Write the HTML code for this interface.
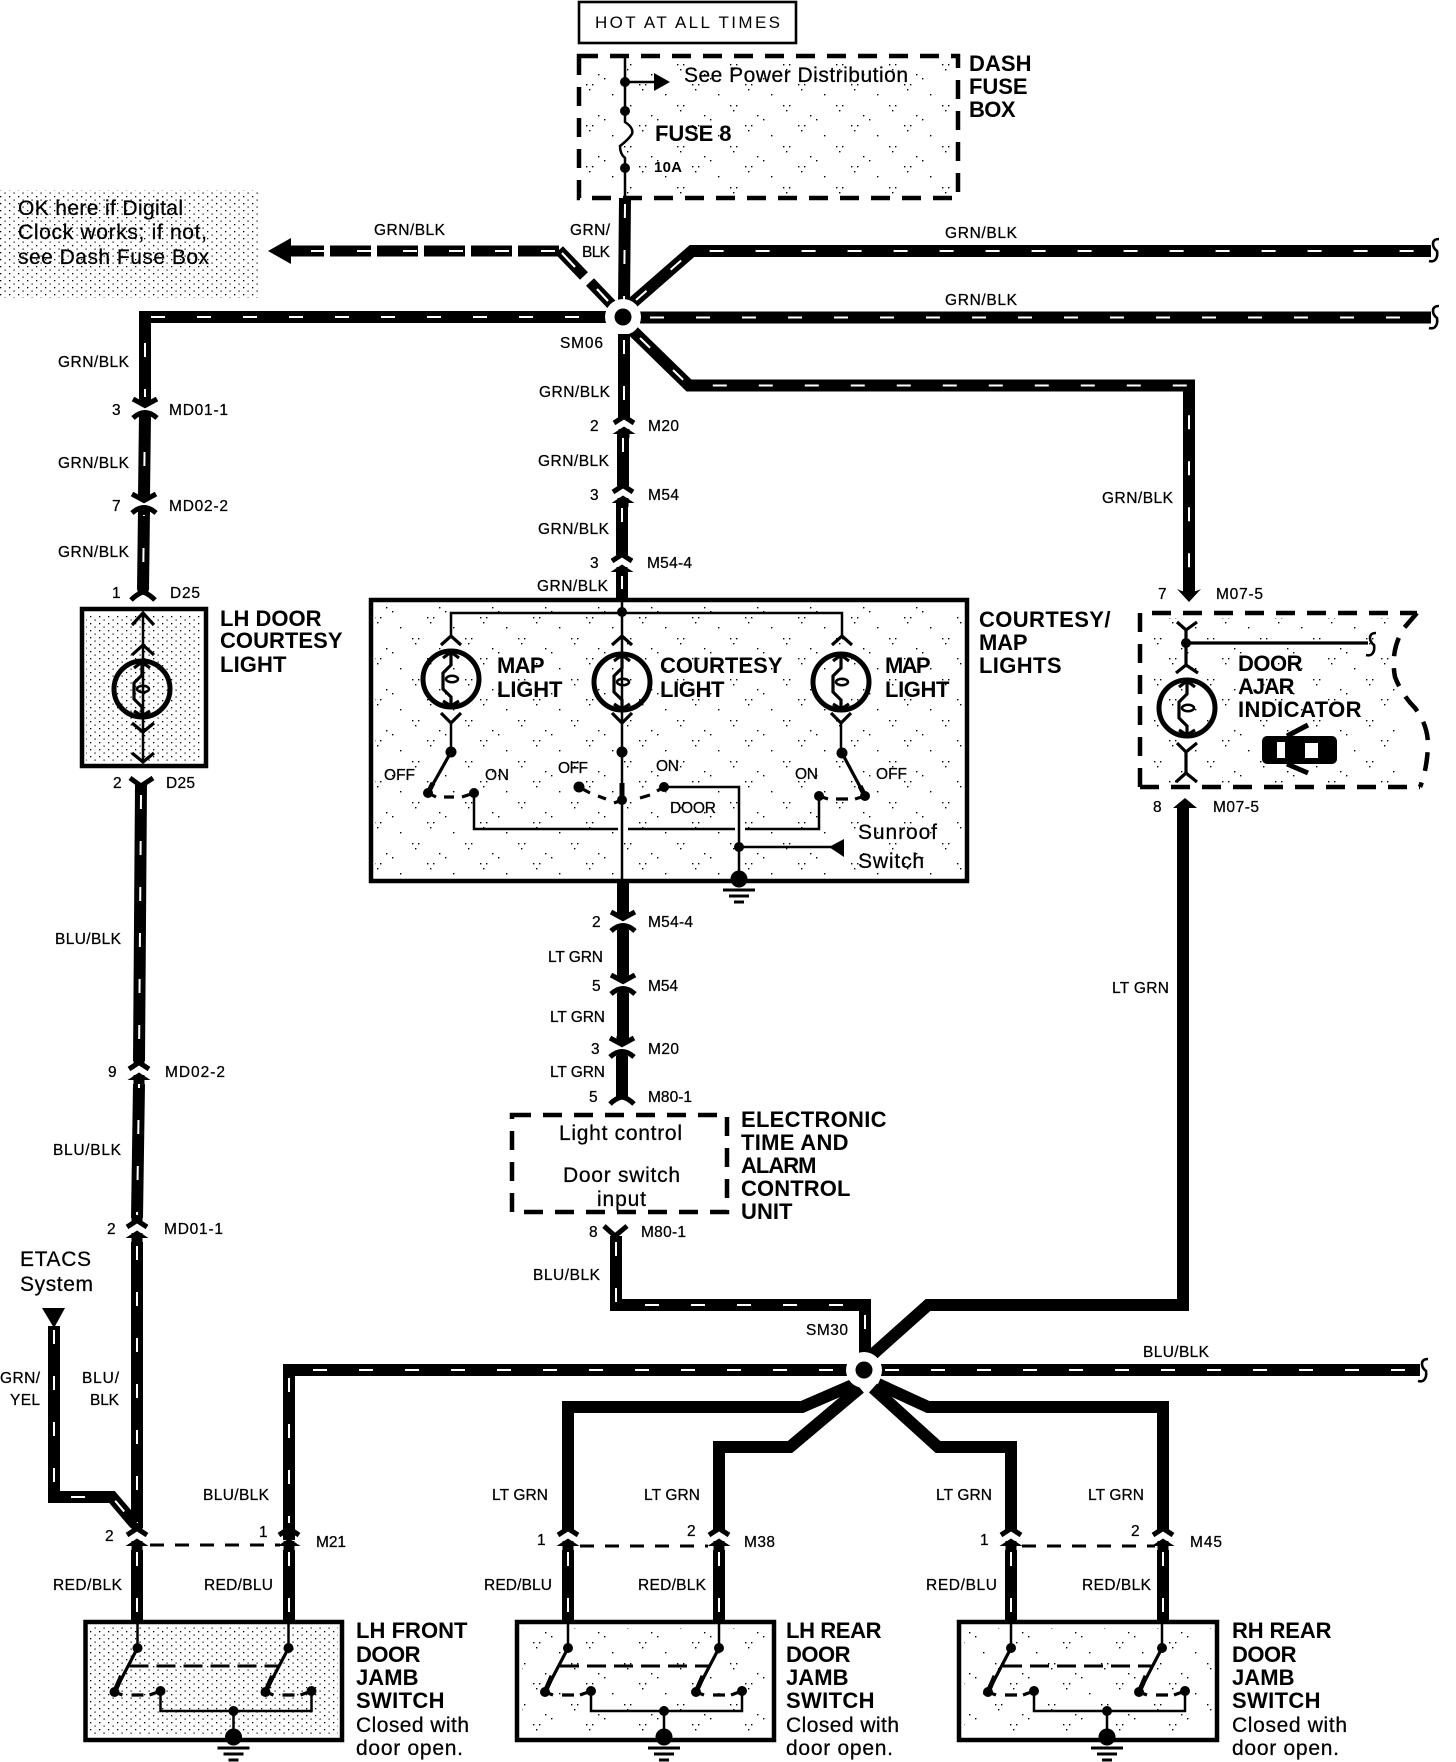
<!DOCTYPE html>
<html><head><meta charset="utf-8">
<style>
html,body{margin:0;padding:0;background:#fff}
svg{display:block}
text{font-family:"Liberation Sans",sans-serif;fill:#000}
.s{font-size:15.5px;stroke:#000;stroke-width:.25}
.m{font-size:21px;stroke:#000;stroke-width:.25}
.b{font-size:22px;font-weight:bold;letter-spacing:.5px}
.w{fill:none;stroke:#000;stroke-width:12;stroke-linejoin:miter}
.t{fill:none;stroke:#fff;stroke-width:2;stroke-dasharray:14 32}
.l{fill:none;stroke:#000;stroke-width:2.5}
.h{fill:none;stroke:#000;stroke-width:3.2}
.a{fill:none;stroke:#000;stroke-width:5}
.box{fill:none;stroke:#000;stroke-width:4.5}
.d{fill:none;stroke:#000;stroke-width:4.5;stroke-dasharray:19 12}
</style></head><body>
<svg width="1456" height="1762" viewBox="0 0 1456 1762" xmlns="http://www.w3.org/2000/svg">
<defs>
<pattern id="dense" width="4" height="4" patternUnits="userSpaceOnUse"><rect width="1.3" height="1.3" fill="#000"/></pattern>
<pattern id="mid" width="9" height="7" patternUnits="userSpaceOnUse"><rect width="1.3" height="1.3" fill="#000"/><rect x="4.5" y="3.5" width="1.2" height="1.2" fill="#000"/></pattern>
<pattern id="sparse" width="53" height="41" patternUnits="userSpaceOnUse"><g fill="#000"><rect x="3" y="2" width="1.4" height="1.4"/><rect x="9" y="2" width="1.4" height="1.4"/><rect x="6" y="7" width="1.4" height="1.4"/><rect x="29" y="12" width="1.4" height="1.4"/><rect x="41" y="23" width="1.4" height="1.4"/><rect x="47" y="23" width="1.4" height="1.4"/><rect x="44" y="28" width="1.4" height="1.4"/><rect x="15" y="33" width="1.4" height="1.4"/><rect x="21" y="37" width="1.4" height="1.4"/></g></pattern>
<g id="V"><path d="M0,-12V-4" stroke="#000" stroke-width="11"/><path d="M-12,-10L0,-3.5L12,-10" class="a"/><path d="M-12,9Q-6,3.5 0,3.5Q6,3.5 12,9" class="a"/><path d="M0,4V11" stroke="#000" stroke-width="11"/></g>
<g id="A"><path d="M0,-14V-8" stroke="#000" stroke-width="11"/><path d="M-10,-2L0,-8.5L10,-2" class="a"/><path d="M-11.5,9L0,1.5L11.5,9Z" fill="#000"/><path d="M0,4V13" stroke="#000" stroke-width="11"/></g>
<g id="B"><circle r="28" fill="none" stroke="#000" stroke-width="5"/><path d="M0,-28V-14L-8,-6V10L0,18V28M-8,-21L0,-27L8,-21M-8,22L0,27L8,22" class="h"/><ellipse cx="1" cy="0" rx="6" ry="3.2" fill="none" stroke="#000" stroke-width="2.5"/></g>
<path id="S" d="M8,-11Q2,-11 2,-6Q2,-2 6,1Q7,7 4,10Q2,12 -2,11" fill="none" stroke="#000" stroke-width="2.6"/>
<g id="G"><circle r="8.5" fill="#000"/><path d="M-16,11H16M-10,17H10M-5,23H5" stroke="#000" stroke-width="3"/></g>
<g id="SW">
<path d="M568,1622V1648M719,1622V1648" class="l"/>
<path d="M568,1648L545,1692M719,1648L696,1692" class="h"/>
<path d="M552,1676L545,1692M703,1676L696,1692" class="a"/>
<path d="M545,1692L553,1695M562,1695H574M580,1695L591,1691M696,1692L704,1695M713,1695H725M731,1695L742,1691" class="h"/>
<path d="M560,1666H710" stroke="#000" stroke-width="3" stroke-dasharray="19 8" fill="none"/>
<path d="M591,1691V1711H742V1691M664,1711V1736" class="l"/>
<g fill="#000"><circle cx="568" cy="1648" r="5"/><circle cx="719" cy="1648" r="5"/><circle cx="545" cy="1692" r="5"/><circle cx="696" cy="1692" r="5"/><circle cx="591" cy="1691" r="5"/><circle cx="742" cy="1691" r="5"/><circle cx="664" cy="1711" r="5"/></g>
<use href="#G" x="664" y="1737"/>
</g>
</defs>
<rect width="1456" height="1762" fill="#fff"/>

<!-- stipple -->
<rect x="0" y="190" width="258" height="108" fill="url(#mid)"/>
<rect x="86" y="614" width="116" height="148" fill="url(#mid)"/>
<rect x="90" y="1626" width="248" height="110" fill="url(#mid)"/>
<rect x="375" y="604" width="588" height="274" fill="url(#sparse)"/>
<rect x="584" y="60" width="370" height="134" fill="url(#sparse)"/>
<rect x="1145" y="618" width="250" height="165" fill="url(#sparse)"/>
<rect x="522" y="1628" width="248" height="106" fill="url(#sparse)"/>
<rect x="964" y="1628" width="248" height="106" fill="url(#sparse)"/>

<!-- hot box + fuse box -->
<rect x="579" y="2" width="217" height="41" fill="none" stroke="#000" stroke-width="2.6"/>
<text x="595" y="28" style="font-size:17px" textLength="185">HOT AT ALL TIMES</text>
<rect x="579" y="56" width="379" height="142" class="d"/>
<path d="M625,56V111M625,165V198M625,82H656" class="l"/>
<path d="M625,111V122Q634,128 632,134Q628,140 620,146Q620,154 625,158V168" class="l"/>
<path d="M654,73L670,82L654,91Z" fill="#000"/>
<circle cx="625" cy="82" r="5"/><circle cx="625" cy="111" r="5"/><circle cx="625" cy="168" r="5"/>
<text x="684" y="82" class="m" textLength="224">See Power Distribution</text>
<text x="655" y="141" class="b" textLength="77">FUSE 8</text>
<text x="654" y="172" style="font-size:15px;font-weight:bold" textLength="28">10A</text>
<text x="969" y="71" class="b" textLength="63">DASH</text>
<text x="969" y="94" class="b" textLength="59">FUSE</text>
<text x="969" y="117" class="b" textLength="47">BOX</text>

<!-- SM06 wires -->
<path d="M625,198L624,305" class="w"/><path d="M625,204L624,305" class="t"/>
<path d="M610,317H145V402" class="w"/><path d="M605,317H145V402" class="t" stroke-dashoffset="20"/>
<path d="M145,414L144,496" class="w"/><path d="M145,414L144,496" class="t" stroke-dashoffset="8"/>
<path d="M144,510L143,590" class="w"/><path d="M144,510L143,590" class="t" stroke-dashoffset="8"/>
<path d="M630,305L692,251H1431" class="w"/><path d="M636,300L692,251H1420" class="t"/>
<path d="M640,317.5H1431" class="w"/><path d="M650,317.5H1420" class="t"/>
<path d="M632,330L689,385.5H1189V592" class="w"/><path d="M640,338L689,385.5H1189V582" class="t"/>
<path d="M1177,589Q1189,595 1201,589L1189,602Z" fill="#000"/>
<path d="M559,251H291" fill="none" stroke="#000" stroke-width="11" stroke-dasharray="41 6"/>
<path d="M268,251L291,238V264Z" fill="#000"/>
<path d="M555,251H291" class="t" stroke-dasharray="15 32"/>
<path d="M559,250L584,276M590,282L613,306" fill="none" stroke="#000" stroke-width="11"/>
<path d="M562,253L575,267M597,289L608,301" fill="none" stroke="#fff" stroke-width="2.2"/>
<use href="#S" x="1431" y="250"/><use href="#S" x="1431" y="317"/>
<circle cx="623" cy="317" r="18" fill="#fff"/><circle cx="623" cy="317" r="8.5" fill="#000"/>

<!-- center top wires -->
<path d="M624,334V418" class="w"/><path d="M624,340V418" class="t"/>
<path d="M623,434V486" class="w"/><path d="M623,438V486" class="t"/>
<path d="M622,503V555" class="w"/><path d="M622,508V555" class="t"/>
<path d="M622,572V600" class="w"/><path d="M622,575V598" class="t"/>
<use href="#A" x="624" y="425"/><use href="#A" x="623" y="494"/><use href="#A" x="622" y="563"/>

<!-- left column -->
<use href="#V" x="145" y="409"/><use href="#V" x="144" y="504"/>
<path d="M143,586V592" stroke="#000" stroke-width="11"/>
<path d="M131,600Q137,594 143,592Q149,594 155,600" class="a"/>
<rect x="82" y="609" width="124" height="157" class="box"/>
<path d="M143,613V763" class="l"/>
<path d="M132,625L143,613L154,625M132,655L143,645L154,655M132,723L143,732L154,723M132,753L143,762L154,753" class="h"/>
<use href="#B" x="142" y="689"/>
<path d="M130,778L141,786L153,778" class="a"/>
<path d="M141,785L139,1061" class="w"/><path d="M141,795L139,1061" class="t"/>
<use href="#A" x="139" y="1071"/>
<path d="M139,1084L137,1218" class="w"/><path d="M139,1084L137,1218" class="t" stroke-dashoffset="10"/>
<use href="#A" x="137" y="1229"/>
<path d="M137,1242V1528" class="w"/><path d="M137,1246V1528" class="t"/>
<use href="#A" x="137" y="1537"/>
<path d="M137,1550V1622" class="w"/><path d="M137,1552V1618" class="t"/>

<!-- ETACS -->
<path d="M42,1308H65L54,1328Z" fill="#000"/>
<path d="M54,1326V1497H112L135,1524" class="w"/><path d="M54,1330V1497H112L133,1522" class="t"/>

<!-- SM30 wires -->
<path d="M289,1540V1370H852" class="w"/><path d="M289,1530V1370H845" class="t"/>
<use href="#A" x="289" y="1537"/>
<path d="M289,1550V1622" class="w"/><path d="M289,1552V1618" class="t"/>
<path d="M880,1370H1420" class="w"/><path d="M885,1370H1410" class="t"/>
<use href="#S" x="1420" y="1370"/>
<path d="M616,1236V1305H865V1355" class="w"/><path d="M616,1242V1305H865V1350" class="t"/>
<path d="M604,1226L615,1236L627,1226" class="a"/>
<path d="M872,1355L928,1305H1183V808" class="w"/>
<path d="M1173,808L1185,798L1197,808Z" fill="#000"/>
<path d="M855,1384L802,1407H568V1530" class="w"/>
<path d="M860,1388L790,1447H719V1530" class="w"/>
<path d="M873,1388L938,1447H1011V1530" class="w"/>
<path d="M878,1384L928,1407H1163V1530" class="w"/>
<circle cx="864" cy="1370" r="18" fill="#fff"/><circle cx="864" cy="1370" r="8.5" fill="#000"/>

<!-- lower connectors -->
<use href="#A" x="568" y="1537"/><use href="#A" x="719" y="1537"/><use href="#A" x="1011" y="1537"/><use href="#A" x="1163" y="1537"/>
<path d="M568,1550V1622M719,1550V1622M1011,1550V1622M1163,1550V1622" class="w"/>
<path d="M568,1552V1618M719,1552V1618M1011,1552V1618M1163,1552V1618" class="t"/>
<path d="M150,1545H280M580,1546H708M1022,1546H1155" fill="none" stroke="#000" stroke-width="3" stroke-dasharray="14 11"/>

<!-- lower boxes -->
<rect x="85.5" y="1622" width="256.5" height="118" class="box"/>
<rect x="517" y="1622" width="257" height="118" class="box"/>
<rect x="959" y="1622" width="258" height="118" class="box"/>
<use href="#SW" x="-430.5"/><use href="#SW"/><use href="#SW" x="443"/>

<!-- courtesy box -->
<rect x="371" y="600" width="596" height="281" class="box"/>
<path d="M622,600V883M451,637V613H842V637" class="l"/>
<path d="M441,645L451,636L461,645M612,645L622,636L632,645M832,645L842,636L852,645M441,713L451,723L461,713M612,713L622,723L632,713M831,713L841,723L851,713" class="h"/>
<use href="#B" x="451" y="679"/><use href="#B" x="622" y="682"/><use href="#B" x="841" y="682"/>
<path d="M451,723V752M841,723V753" class="l"/>
<path d="M451,752L428,793M842,753L865,796" class="h"/>
<path d="M433,783L428,793M860,786L865,796" class="a"/>
<path d="M428,793L436,797M444,797H454M462,797L474,793M819,796L828,799M836,799H848M855,799L865,796" class="h"/>
<path d="M579,787L590,793M598,796L606,799M622,800L614,803M640,798L650,795M657,791L664,787" class="h" stroke-width="3.5"/>
<path d="M622,783V800" class="a"/>
<path d="M474,793V829H618M628,829H735M745,829H819V796M664,787H739V878M739,847H832" class="l"/>
<path d="M829,847L844,839V857Z" fill="#000"/>
<g fill="#000"><circle cx="451" cy="752" r="5.5"/><circle cx="622" cy="752" r="5.5"/><circle cx="842" cy="753" r="5.5"/><circle cx="428" cy="793" r="5"/><circle cx="474" cy="793" r="5"/><circle cx="579" cy="787" r="5.5"/><circle cx="664" cy="787" r="5"/><circle cx="622" cy="800" r="5"/><circle cx="819" cy="796" r="5"/><circle cx="865" cy="796" r="5"/><circle cx="739" cy="847" r="5"/><circle cx="622" cy="612" r="5"/></g>
<use href="#G" x="739" y="879"/>

<!-- center lower wires -->
<path d="M623,883V915M623,930V978M623,993V1041M622,1056V1098" class="w"/>
<use href="#V" x="623" y="922"/><use href="#V" x="623" y="985"/><use href="#V" x="622" y="1048"/>
<path d="M610,1104Q616,1098 622,1097Q628,1098 634,1104" class="a"/>

<!-- ETU box -->
<rect x="512" y="1115" width="215" height="97" class="d"/>
<text x="559" y="1140" class="m" textLength="123">Light control</text>
<text x="563" y="1182" class="m" textLength="117">Door switch</text>
<text x="597" y="1206" class="m" textLength="49">input</text>
<text x="741" y="1127" class="b" textLength="146">ELECTRONIC</text>
<text x="741" y="1150" class="b" textLength="108">TIME AND</text>
<text x="741" y="1173" class="b" textLength="76">ALARM</text>
<text x="741" y="1196" class="b" textLength="110">CONTROL</text>
<text x="741" y="1219" class="b" textLength="52">UNIT</text>

<!-- door ajar -->
<path d="M1140,787V613H1417" class="d"/>
<path d="M1140,787H1420" class="d"/>
<path d="M1417,613L1404,628Q1390,650 1395,677Q1402,695 1415,708Q1428,725 1428,745Q1427,770 1420,787" class="d"/>
<path d="M1177,622L1186,630L1197,622M1176,673L1186,665L1198,673M1177,743L1186,752L1197,743M1176,782L1186,773L1197,782" class="h"/>
<path d="M1186,630V665M1186,752V773" class="h"/>
<path d="M1186,643H1368" class="h"/>
<circle cx="1186" cy="643" r="5"/>
<use href="#S" x="1368" y="644"/>
<use href="#B" x="1187" y="708"/>
<rect x="1262" y="736" width="75" height="28" rx="5" fill="#000"/>
<rect x="1277" y="742" width="8" height="16" fill="#fff"/><rect x="1305" y="743" width="13" height="15" fill="#fff"/>
<path d="M1287,736L1308,725M1287,764L1308,773" class="a"/>
<text x="1238" y="671" class="b" textLength="65">DOOR</text>
<text x="1238" y="694" class="b" textLength="57">AJAR</text>
<text x="1238" y="717" class="b" textLength="124">INDICATOR</text>

<!-- large labels -->
<text x="220" y="626" class="b" textLength="102">LH DOOR</text>
<text x="220" y="648" class="b" textLength="123">COURTESY</text>
<text x="220" y="672" class="b" textLength="67">LIGHT</text>
<text x="979" y="627" class="b" textLength="132">COURTESY/</text>
<text x="979" y="650" class="b" textLength="49">MAP</text>
<text x="979" y="673" class="b" textLength="83">LIGHTS</text>
<text x="497" y="673" class="b" textLength="48">MAP</text>
<text x="497" y="697" class="b" textLength="66">LIGHT</text>
<text x="660" y="673" class="b" textLength="123">COURTESY</text>
<text x="660" y="697" class="b" textLength="65">LIGHT</text>
<text x="885" y="673" class="b" textLength="46">MAP</text>
<text x="885" y="697" class="b" textLength="65">LIGHT</text>
<text x="858" y="839" class="m" textLength="79">Sunroof</text>
<text x="858" y="868" class="m" textLength="66">Switch</text>
<text x="384" y="780" class="s" textLength="31">OFF</text>
<text x="485" y="780" class="s" textLength="24">ON</text>
<text x="558" y="773" class="s" textLength="30">OFF</text>
<text x="656" y="771" class="s" textLength="23">ON</text>
<text x="795" y="779" class="s" textLength="23">ON</text>
<text x="876" y="779" class="s" textLength="31">OFF</text>
<text x="670" y="813" class="s" textLength="46">DOOR</text>

<text x="18" y="215" class="m" textLength="165">OK here if Digital</text>
<text x="18" y="239" class="m" textLength="189">Clock works; if not,</text>
<text x="18" y="264" class="m" textLength="191">see Dash Fuse Box</text>
<text x="20" y="1266" class="m" textLength="71">ETACS</text>
<text x="20" y="1291" class="m" textLength="73">System</text>

<!-- lower labels -->
<g>
<text x="356" y="1638" class="b" textLength="112">LH FRONT</text><text x="356" y="1662" class="b" textLength="65">DOOR</text><text x="356" y="1685" class="b" textLength="63">JAMB</text><text x="356" y="1708" class="b" textLength="89">SWITCH</text><text x="356" y="1732" class="m" textLength="113" style="font-size:21px">Closed with</text><text x="356" y="1755" class="m" textLength="107" style="font-size:21px">door open.</text>
<text x="786" y="1638" class="b" textLength="96">LH REAR</text><text x="786" y="1662" class="b" textLength="65">DOOR</text><text x="786" y="1685" class="b" textLength="63">JAMB</text><text x="786" y="1708" class="b" textLength="89">SWITCH</text><text x="786" y="1732" class="m" textLength="113" style="font-size:21px">Closed with</text><text x="786" y="1755" class="m" textLength="107" style="font-size:21px">door open.</text>
<text x="1232" y="1638" class="b" textLength="100">RH REAR</text><text x="1232" y="1662" class="b" textLength="65">DOOR</text><text x="1232" y="1685" class="b" textLength="63">JAMB</text><text x="1232" y="1708" class="b" textLength="89">SWITCH</text><text x="1232" y="1732" class="m" textLength="115" style="font-size:21px">Closed with</text><text x="1232" y="1755" class="m" textLength="107" style="font-size:21px">door open.</text>
</g>

<!-- small labels -->
<g class="s">
<text x="374" y="235" textLength="71">GRN/BLK</text>
<text x="570" y="235" textLength="40">GRN/</text><text x="582" y="257" textLength="28">BLK</text>
<text x="945" y="238" textLength="72">GRN/BLK</text>
<text x="945" y="305" textLength="72">GRN/BLK</text>
<text x="560" y="348" textLength="43">SM06</text>
<text x="58" y="367" textLength="71">GRN/BLK</text>
<text x="112" y="415">3</text><text x="169" y="415" textLength="59">MD01-1</text>
<text x="58" y="468" textLength="71">GRN/BLK</text>
<text x="112" y="511">7</text><text x="169" y="511" textLength="59">MD02-2</text>
<text x="58" y="557" textLength="71">GRN/BLK</text>
<text x="112" y="598">1</text><text x="170" y="598" textLength="30">D25</text>
<text x="113" y="788">2</text><text x="166" y="788" textLength="29">D25</text>
<text x="539" y="397" textLength="71">GRN/BLK</text>
<text x="590" y="431">2</text><text x="648" y="431" textLength="31">M20</text>
<text x="538" y="466" textLength="71">GRN/BLK</text>
<text x="590" y="500">3</text><text x="648" y="500" textLength="31">M54</text>
<text x="538" y="534" textLength="71">GRN/BLK</text>
<text x="590" y="568">3</text><text x="647" y="568" textLength="45">M54-4</text>
<text x="537" y="591" textLength="71">GRN/BLK</text>
<text x="1102" y="503" textLength="71">GRN/BLK</text>
<text x="1158" y="599">7</text><text x="1216" y="599" textLength="47">M07-5</text>
<text x="1153" y="812">8</text><text x="1213" y="812" textLength="46">M07-5</text>
<text x="1112" y="993" textLength="57">LT GRN</text>
<text x="55" y="944" textLength="66">BLU/BLK</text>
<text x="108" y="1077">9</text><text x="165" y="1077" textLength="60">MD02-2</text>
<text x="53" y="1155" textLength="68">BLU/BLK</text>
<text x="107" y="1234">2</text><text x="164" y="1234" textLength="59">MD01-1</text>
<text x="0" y="1383" textLength="40">GRN/</text><text x="10" y="1405" textLength="30">YEL</text>
<text x="82" y="1383" textLength="37">BLU/</text><text x="90" y="1405" textLength="29">BLK</text>
<text x="203" y="1500" textLength="66">BLU/BLK</text>
<text x="592" y="927">2</text><text x="648" y="927" textLength="45">M54-4</text>
<text x="548" y="962" textLength="55">LT GRN</text>
<text x="592" y="991">5</text><text x="648" y="991" textLength="30">M54</text>
<text x="550" y="1022" textLength="55">LT GRN</text>
<text x="591" y="1054">3</text><text x="648" y="1054" textLength="31">M20</text>
<text x="550" y="1077" textLength="55">LT GRN</text>
<text x="589" y="1102">5</text><text x="648" y="1102" textLength="44">M80-1</text>
<text x="589" y="1237">8</text><text x="641" y="1237" textLength="45">M80-1</text>
<text x="533" y="1280" textLength="67">BLU/BLK</text>
<text x="806" y="1335" textLength="42">SM30</text>
<text x="1143" y="1357" textLength="66">BLU/BLK</text>
<text x="492" y="1500" textLength="56">LT GRN</text>
<text x="644" y="1500" textLength="56">LT GRN</text>
<text x="936" y="1500" textLength="56">LT GRN</text>
<text x="1088" y="1500" textLength="56">LT GRN</text>
<text x="105" y="1541">2</text><text x="259" y="1537">1</text><text x="316" y="1547" textLength="30">M21</text>
<text x="537" y="1545">1</text><text x="687" y="1536">2</text><text x="744" y="1547" textLength="31">M38</text>
<text x="980" y="1545">1</text><text x="1131" y="1536">2</text><text x="1190" y="1547" textLength="32">M45</text>
<text x="53" y="1590" textLength="69">RED/BLK</text>
<text x="204" y="1590" textLength="69">RED/BLU</text>
<text x="484" y="1590" textLength="68">RED/BLU</text>
<text x="638" y="1590" textLength="68">RED/BLK</text>
<text x="926" y="1590" textLength="71">RED/BLU</text>
<text x="1082" y="1590" textLength="69">RED/BLK</text>
</g>
</svg>
</body></html>
